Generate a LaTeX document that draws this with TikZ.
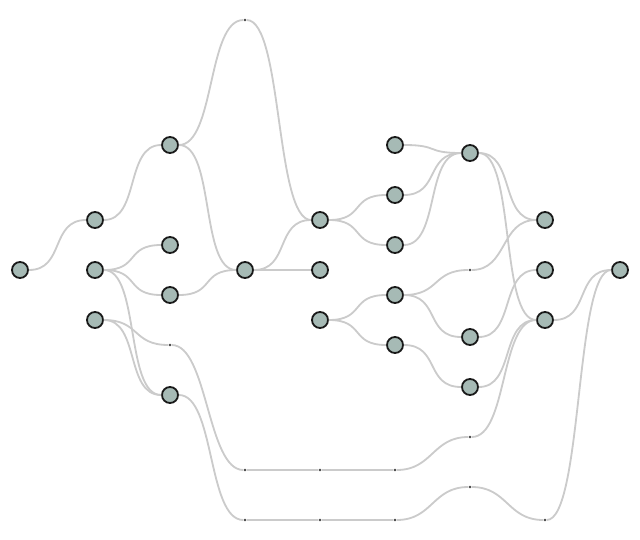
\documentclass[tikz,border=0pt]{standalone}
\usetikzlibrary{shapes}
\definecolor{vfill}{HTML}{A6BAB5}
\definecolor{egray}{HTML}{CBCBCB}
\tikzstyle{line} = [draw, egray, line width=1.3pt]
\tikzstyle{vertex} = [draw=black!90, fill=vfill, circle, line width=1.3pt, minimum size=0.4cm, inner sep=0pt]
\tikzstyle{dummy} = [fill=black!75, circle, inner sep=0pt, minimum size=0.07cm]
\tikzstyle{spline} = [out=0, in=180, distance=0.9cm]

\begin{document}
\begin{tikzpicture}[x=0.025cm, y=-0.025cm]
        \useasboundingbox (0,0) rectangle (640,540);
        % rank 0..8, from left to right
        \node[vertex] (a) at (20,270) {};
        \node[vertex] (b1) at (95,220) {};
        \node[vertex] (b2) at (95,270) {};
        \node[vertex] (b3) at (95,320) {};
        \node[vertex] (c1) at (170,145) {};
        \node[vertex] (c2) at (170,245) {};
        \node[vertex] (c3) at (170,295) {};
        \node[vertex] (c4) at (170,395) {};
        \node[dummy] (cx) at (170,345) {};
        \node[vertex] (d) at (245,270) {};
        \node[dummy] (dtop) at (245,20) {};
        \node[dummy] (dx1) at (245,470) {};
        \node[dummy] (dx2) at (245,520) {};
        \node[vertex] (e1) at (320,220) {};
        \node[vertex] (e2) at (320,270) {};
        \node[vertex] (e3) at (320,320) {};
        \node[dummy] (ex1) at (320,470) {};
        \node[dummy] (ex2) at (320,520) {};
        \node[vertex] (f1) at (395,145) {};
        \node[vertex] (f2) at (395,195) {};
        \node[vertex] (f3) at (395,245) {};
        \node[vertex] (f4) at (395,295) {};
        \node[vertex] (f5) at (395,345) {};
        \node[dummy] (fx1) at (395,470) {};
        \node[dummy] (fx2) at (395,520) {};
        \node[vertex] (g1) at (470,153) {};
        \node[vertex] (g2) at (470,337) {};
        \node[vertex] (g3) at (470,387) {};
        \node[dummy] (gmid) at (470,270) {};
        \node[dummy] (gx1) at (470,437) {};
        \node[dummy] (gx2) at (470,487) {};
        \node[vertex] (h1) at (545,220) {};
        \node[vertex] (h2) at (545,270) {};
        \node[vertex] (h3) at (545,320) {};
        \node[dummy] (hx2) at (545,520) {};
        \node[vertex] (i) at (620,270) {};
        % edges
        \path[line] (a) to[spline] (b1);
        \path[line] (b1) to[spline] (c1);
        \path[line] (b2) to[spline] (c2);
        \path[line] (b2) to[spline] (c3);
        \path[line] (b2) to[spline] (c4);
        \path[line] (b3) to[spline] (c4);
        \path[line] (b3) to[spline] (cx) to[spline] (dx1) -- (ex1) -- (fx1) to[spline] (gx1) to[spline] (h3);
        \path[line] (c4) to[spline] (dx2) -- (ex2) -- (fx2) to[spline] (gx2) to[spline] (hx2) to[spline] (i);
        \path[line] (c1) to[spline] (dtop) to[spline] (e1);
        \path[line] (c1) to[spline] (d);
        \path[line] (c3) to[spline] (d);
        \path[line] (d) to[spline] (e1);
        \path[line] (d) -- (e2);
        \path[line] (e1) to[spline] (f2);
        \path[line] (e1) to[spline] (f3);
        \path[line] (e3) to[spline] (f4);
        \path[line] (e3) to[spline] (f5);
        \path[line] (f1) to[spline] (g1);
        \path[line] (f2) to[spline] (g1);
        \path[line] (f3) to[spline] (g1);
        \path[line] (f4) to[spline] (gmid) to[spline] (h1);
        \path[line] (f4) to[spline] (g2);
        \path[line] (f5) to[spline] (g3);
        \path[line] (g1) to[spline] (h1);
        \path[line] (g1) to[spline] (h3);
        \path[line] (g2) to[spline] (h2);
        \path[line] (g3) to[spline] (h3);
        \path[line] (h3) to[spline] (i);
    \end{tikzpicture}
\end{document}
